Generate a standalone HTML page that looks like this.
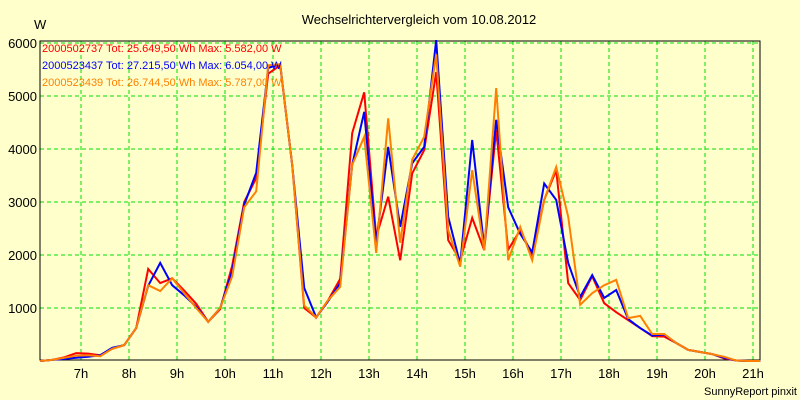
<!DOCTYPE html>
<html><head><meta charset="utf-8"><style>
body{margin:0;background:#ffffcc;}
svg{display:block;font-family:"Liberation Sans",sans-serif;}
</style></head><body>
<svg id="chart" width="800" height="400">
<rect x="0" y="0" width="800" height="400" fill="#ffffcc"/>
<text x="419" y="24" text-anchor="middle" font-size="13" fill="#000">Wechselrichtervergleich vom 10.08.2012</text>
<text x="34" y="29" font-size="13" fill="#000">W</text>
<g id="grid"></g><g id="axes"></g><g id="series"></g>
<text x="797" y="395" text-anchor="end" font-size="11" fill="#000">SunnyReport pinxit</text>
<g id="legend"></g>
</svg>
<script>
const startHour = 6.15;
const stepHour = 0.25;
const seriesNames = ["2000502737 Tot: 25.649,50 Wh Max: 5.582,00 W","2000523437 Tot: 27.215,50 Wh Max: 6.054,00 W","2000523439 Tot: 26.744,50 Wh Max: 5.787,00 W"];
const seriesColors = ["#ff0000","#0000ff","#ff8000"];
const redValues = [0,20,70,150,140,110,230,300,620,1735,1470,1560,1330,1080,740,980,1800,3000,3450,5420,5580,3700,1000,820,1150,1550,4300,5070,2340,3100,1900,3540,3980,5450,2280,1900,2700,2090,4360,2100,2470,2000,3040,3600,1470,1150,1600,1090,920,770,620,470,460,340,210,170,130,50,10,0,0];
const blueValues = [0,20,40,60,80,110,250,300,620,1420,1850,1430,1240,1020,740,1000,1700,2950,3550,5530,5600,3700,1380,820,1130,1470,3700,4700,2230,4040,2530,3730,4040,6054,2720,1830,4170,2150,4550,2900,2400,2050,3350,3040,1850,1210,1620,1190,1340,790,620,480,500,340,210,170,130,60,10,0,0];
const orangeValues = [0,20,60,100,110,90,230,300,620,1430,1320,1560,1280,1000,740,1000,1600,2900,3200,5580,5600,3700,1050,820,1150,1400,3700,4230,2040,4580,2230,3800,4230,5787,2470,1780,3600,2090,5150,1900,2530,1900,3040,3660,2720,1060,1280,1430,1530,810,850,510,510,340,210,170,130,80,10,0,0];
const yTicks = [1000,2000,3000,4000,5000,6000];
const xTickHours = [7,8,9,10,11,12,13,14,15,16,17,18,19,20,21];
const NS="http://www.w3.org/2000/svg";
const L=40,R=760,T=41,B=360;
function xs(h){return 81+(h-7)*48;}
function ys(v){return 361-v*0.053;}
function mk(tag,attrs,parent){const e=document.createElementNS(NS,tag);for(const k in attrs)e.setAttribute(k,attrs[k]);parent.appendChild(e);return e;}
const grid=document.getElementById('grid'),axes=document.getElementById('axes'),ser=document.getElementById('series'),leg=document.getElementById('legend');
yTicks.forEach(v=>{
  const l=mk('line',{x1:L,x2:R,y1:ys(v),y2:ys(v),stroke:'#00dd00','stroke-dasharray':'4,3'},grid);
  
  
  const t=mk('text',{x:37,y:ys(v)+5,'text-anchor':'end','font-size':13},axes);
  t.textContent=v;
  
  
});
xTickHours.forEach(h=>{
  const l=mk('line',{x1:xs(h),x2:xs(h),y1:T,y2:B,stroke:'#00dd00','stroke-dasharray':'4,3'},grid);
  
  
  const t=mk('text',{x:xs(h),y:378,'text-anchor':'middle','font-size':13},axes);
  t.textContent=h+'h';
  
  
});
const fr=mk('rect',{x:L,y:T,width:R-L,height:B-T,fill:'none',stroke:'#000','stroke-width':1},axes);


[redValues,blueValues,orangeValues].forEach((vals,i)=>{
  const pts=vals.map((v,k)=>xs(startHour+k*stepHour).toFixed(1)+','+ys(v).toFixed(1)).join(' ');
  const p=mk('polyline',{points:pts,fill:'none',stroke:seriesColors[i],'stroke-width':2,'stroke-linejoin':'miter'},ser);
  
  
  const t=mk('text',{x:42,y:52+i*17,'font-size':11,fill:seriesColors[i]},leg);
  t.textContent=seriesNames[i];
  
  
});
</script>
</body></html>
